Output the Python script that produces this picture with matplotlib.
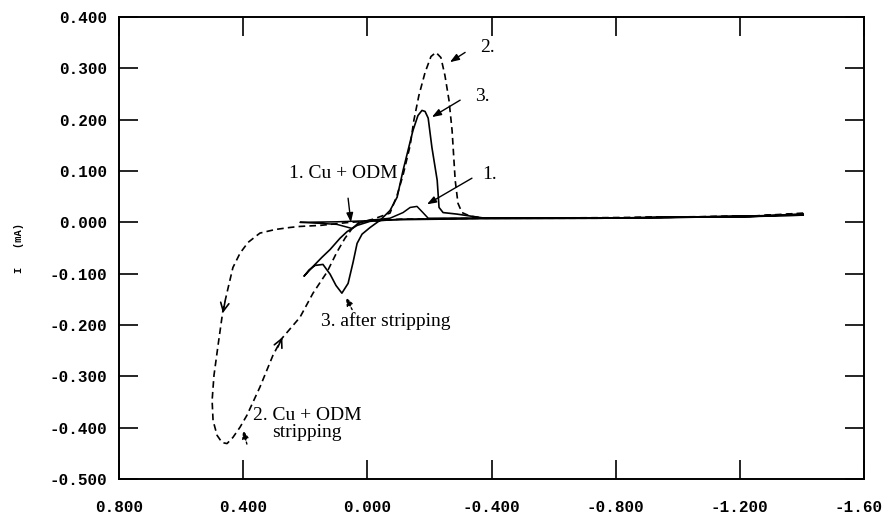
import matplotlib
matplotlib.use("Agg")
import matplotlib.pyplot as plt
import matplotlib.transforms as mtransforms

# potentials (V) and currents (mA)
# 1. Cu + ODM (solid, small peak)
cu_odm_E = [-1.404, -1.233, -0.750, -0.380, -0.196, -0.179, -0.160, -0.138, -0.115,
            -0.073, -0.009, 0.030, 0.049, 0.098, 0.152, 0.217, 0.100, 0.000, -0.100,
            -0.360, -0.750, -1.233, -1.404]
cu_odm_I = [0.016, 0.011, 0.008, 0.008, 0.008, 0.019, 0.031, 0.029, 0.019,
            0.008, 0.004, -0.002, -0.012, -0.004, -0.002, 0.000, 0.001, 0.003, 0.005,
            0.007, 0.008, 0.011, 0.014]

# 2. Cu + ODM stripping (dashed loop)
strip_E = [-1.404, -1.233, -0.750, -0.379, -0.105, 0.056, 0.152, 0.217, 0.249, 0.297,
           0.346, 0.384, 0.410, 0.433, 0.449, 0.465, 0.481, 0.494, 0.500, 0.497,
           0.484, 0.468, 0.452, 0.433, 0.410, 0.388, 0.346, 0.304, 0.275, 0.217,
           0.175, 0.130, 0.098, 0.072, 0.049, 0.024, -0.018, -0.073, -0.096, -0.115,
           -0.138, -0.150, -0.166, -0.186, -0.205, -0.221, -0.237, -0.250, -0.263, -0.273,
           -0.283, -0.292, -0.305, -0.331, -0.379, -0.750, -1.233, -1.404]
strip_I = [0.018, 0.012, 0.008, 0.008, 0.006, 0.000, -0.006, -0.008, -0.010, -0.014,
           -0.021, -0.039, -0.060, -0.088, -0.129, -0.171, -0.240, -0.298, -0.347, -0.386,
           -0.415, -0.429, -0.431, -0.419, -0.399, -0.376, -0.321, -0.259, -0.226, -0.185,
           -0.138, -0.097, -0.058, -0.031, -0.012, 0.000, 0.006, 0.018, 0.053, 0.092,
           0.150, 0.199, 0.247, 0.292, 0.323, 0.331, 0.321, 0.286, 0.238, 0.179,
           0.082, 0.037, 0.019, 0.012, 0.008, 0.009, 0.012, 0.016]

# 3. after stripping (solid, big peak + cathodic dip)
after_E = [-1.404, -1.233, -0.750, -0.379, -0.289, -0.244, -0.231, -0.225, -0.208, -0.196,
           -0.186, -0.176, -0.163, -0.147, -0.115, -0.096, -0.073, -0.041, -0.009, 0.017,
           0.033, 0.046, 0.062, 0.082, 0.101, 0.120, 0.143, 0.169, 0.188, 0.204,
           0.175, 0.146, 0.120, 0.088, 0.065, 0.033, -0.009, -0.105, -0.363, -0.750,
           -1.233, -1.404]
after_I = [0.016, 0.012, 0.008, 0.008, 0.016, 0.019, 0.029, 0.082, 0.146, 0.203,
           0.216, 0.218, 0.208, 0.179, 0.101, 0.049, 0.023, 0.004, -0.010, -0.023,
           -0.041, -0.078, -0.119, -0.138, -0.123, -0.101, -0.082, -0.084, -0.093, -0.105,
           -0.086, -0.068, -0.053, -0.031, -0.018, -0.006, 0.002, 0.006, 0.008, 0.008,
           0.012, 0.014]

x_ticks = [0.8, 0.4, 0.0, -0.4, -0.8, -1.2, -1.6]
x_labels = ["0.800", "0.400", "0.000", "-0.400", "-0.800", "-1.200", "-1.60"]
y_ticks = [0.4, 0.3, 0.2, 0.1, 0.0, -0.1, -0.2, -0.3, -0.4, -0.5]
y_labels = ["0.400", "0.300", "0.200", "0.100", "0.000",
            "-0.100", "-0.200", "-0.300", "-0.400", "-0.500"]

mono = "Liberation Mono"
serif = "Liberation Serif"

fig = plt.figure(figsize=(8.86, 5.18), dpi=100)
ax = fig.add_axes([0.1343, 0.0753, 0.8409, 0.8919])

ax.plot(cu_odm_E, cu_odm_I, color="black", lw=1.1)
ax.plot(after_E, after_I, color="black", lw=1.2)
ax.plot(strip_E, strip_I, color="black", lw=1.2, dashes=(4, 2.5))

ax.set_xlim(0.8, -1.6)
ax.set_ylim(-0.5, 0.4)
ax.set_xticks(x_ticks)
ax.set_xticklabels(x_labels, fontfamily=mono, fontweight="bold", fontsize=11.5)
ax.set_yticks(y_ticks)
ax.set_yticklabels(y_labels, fontfamily=mono, fontweight="bold", fontsize=11.5)
ax.tick_params(direction="in", length=14, width=1.2, top=True, right=True)
ax.tick_params(axis="y", pad=8.5)
ax.tick_params(axis="x", pad=15)
for sp in ax.spines.values():
    sp.set_linewidth(1.4)

# last label sits against the right edge, nudge it so it stays inside
last = ax.get_xticklabels()[-1]
last.set_transform(last.get_transform() +
                   mtransforms.ScaledTranslation(-4 / 72, 0, fig.dpi_scale_trans))

ax.set_ylabel("I   (mA)", fontfamily=mono, fontweight="bold", fontsize=7.5)
ax.yaxis.set_label_coords(-0.128, 0.5)

# direction arrows on the dashed sweep
chev = dict(arrowstyle="->,head_length=0.6,head_width=0.3", color="black", lw=1.2)
ax.annotate("", xy=(0.467, -0.182), xytext=(0.457, -0.150), arrowprops=chev)
ax.annotate("", xy=(0.270, -0.219), xytext=(0.292, -0.248), arrowprops=chev)

# labels with pointers
head = dict(arrowstyle="-|>,head_length=0.55,head_width=0.2", color="black", lw=1.0,
            shrinkA=0, shrinkB=0)
ax.annotate("", xy=(-0.266, 0.312), xytext=(-0.315, 0.331), arrowprops=head)
ax.text(-0.386, 0.341, "2.", fontfamily=serif, fontsize=14, ha="center", va="center")

ax.annotate("", xy=(-0.208, 0.205), xytext=(-0.299, 0.238), arrowprops=head)
ax.text(-0.369, 0.245, "3.", fontfamily=serif, fontsize=14, ha="center", va="center")

ax.annotate("", xy=(-0.192, 0.035), xytext=(-0.337, 0.086), arrowprops=head)
ax.text(-0.395, 0.094, "1.", fontfamily=serif, fontsize=14, ha="center", va="center")

ax.annotate("", xy=(0.053, 0.000), xytext=(0.062, 0.047), arrowprops=head)
ax.text(0.078, 0.095, "1. Cu + ODM", fontfamily=serif, fontsize=14, ha="center", va="center")

dotted = dict(arrowstyle="-|>,head_length=0.5,head_width=0.2", color="black", lw=1.0,
              linestyle=(0, (1.5, 1.5)), shrinkA=0, shrinkB=0)
ax.annotate("", xy=(0.069, -0.146), xytext=(0.049, -0.170), arrowprops=dotted)
ax.text(-0.060, -0.193, "3. after stripping", fontfamily=serif, fontsize=14,
        ha="center", va="center")

ax.annotate("", xy=(0.400, -0.405), xytext=(0.388, -0.432), arrowprops=dotted)
ax.text(0.194, -0.393, "2. Cu + ODM\nstripping", fontfamily=serif, fontsize=14,
        ha="center", va="center", linespacing=1.0)

fig.savefig("out.png", dpi=100)
